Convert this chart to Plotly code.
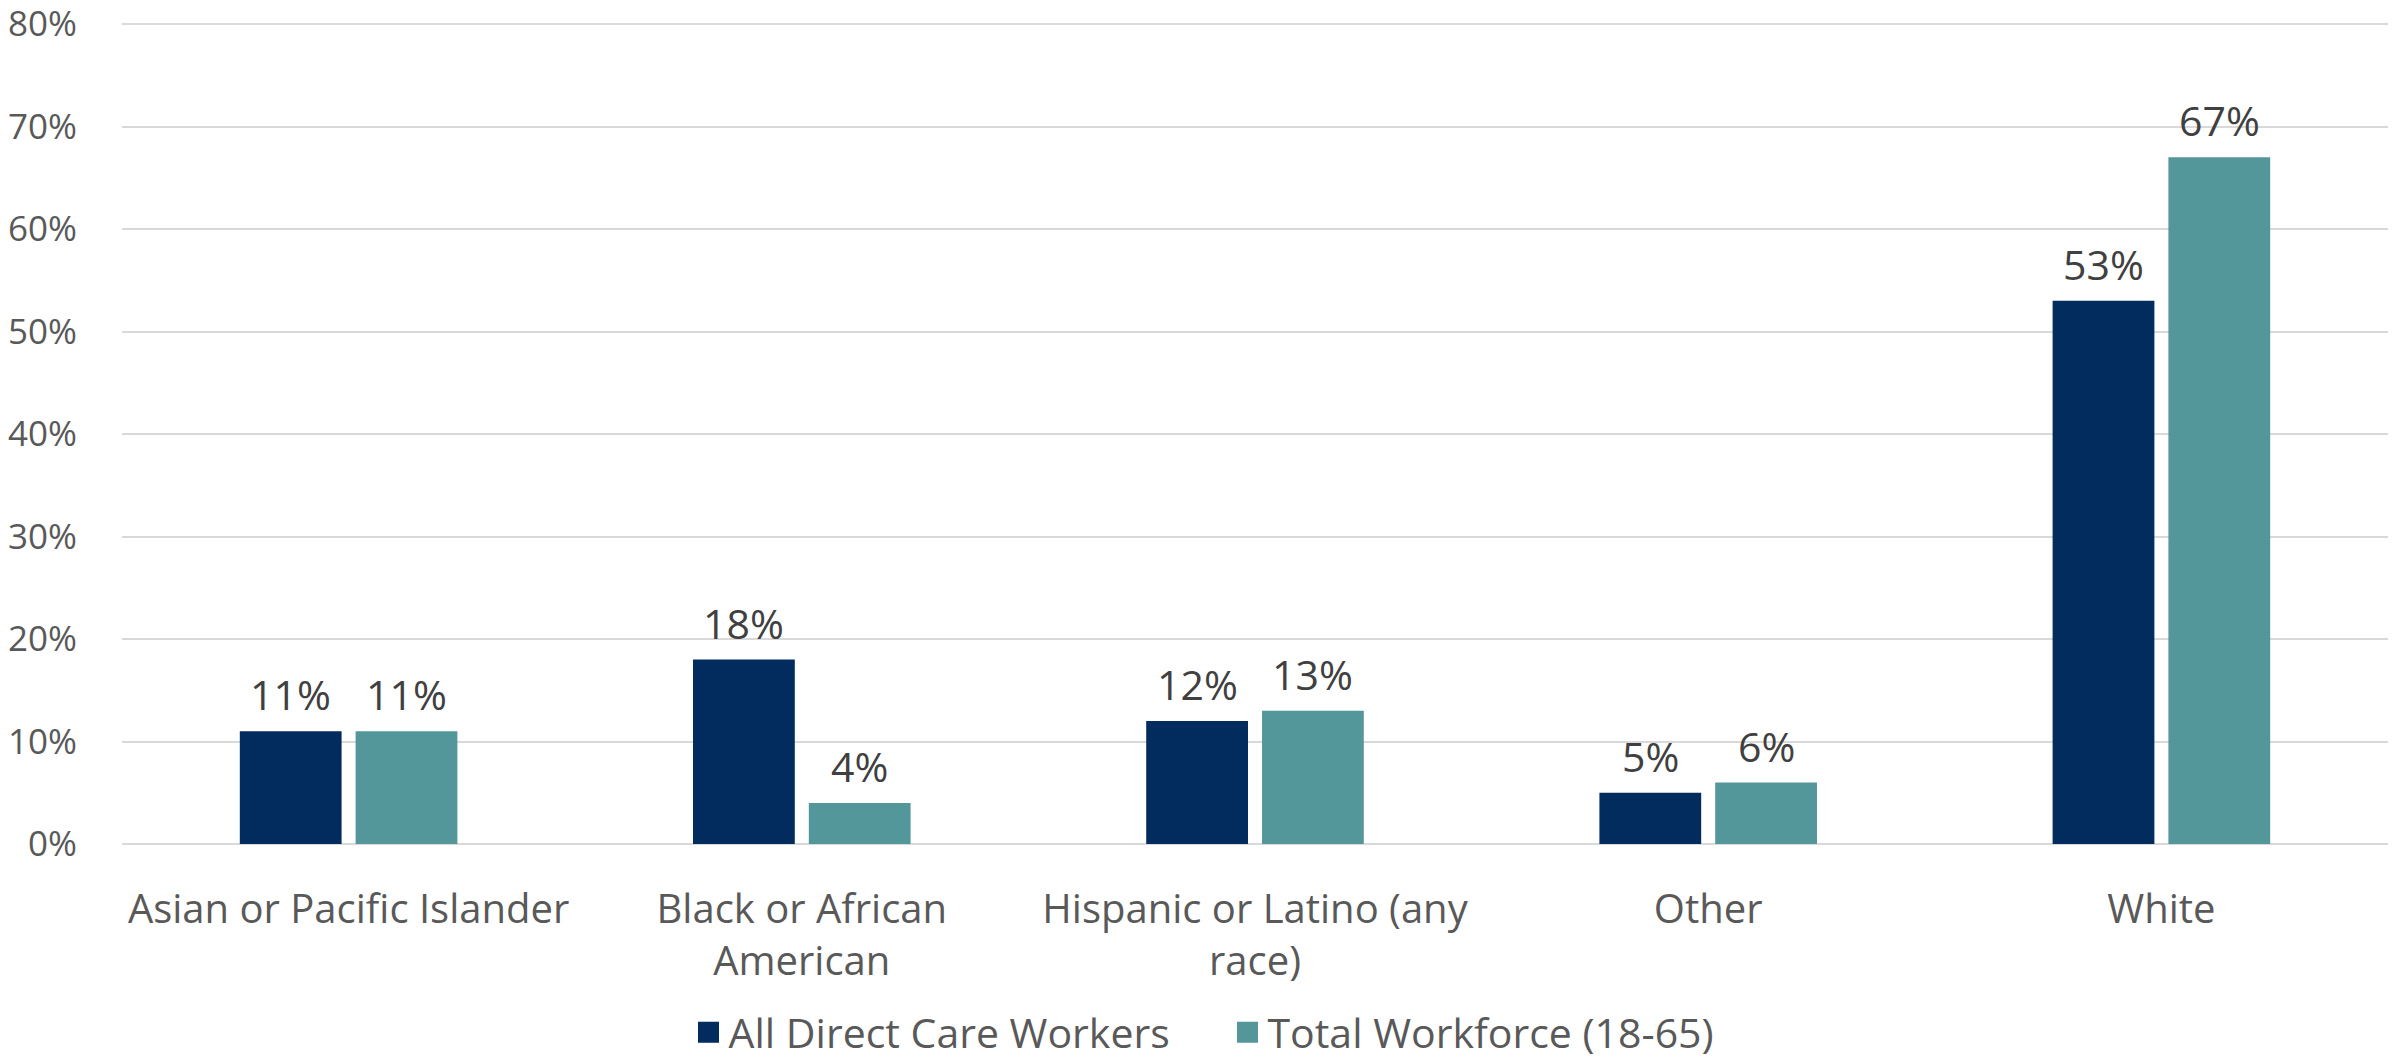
import plotly.graph_objects as go

# Race / ethnicity shares (percent)
categories = [
    "Asian or Pacific Islander",
    "Black or African<br>American",
    "Hispanic or Latino (any<br>race)",
    "Other",
    "White",
]
direct_care = [11, 18, 12, 5, 53]
total_workforce = [11, 4, 13, 6, 67]
series_names = ["All Direct Care Workers", "Total Workforce (18-65)"]
series_colors = ["#022B5E", "#54979B"]
y_ticks = [0, 10, 20, 30, 40, 50, 60, 70, 80]
y_tick_labels = [f"{v}%" for v in y_ticks]

FONT = "Open Sans, Segoe UI, sans-serif"

WIDTH, HEIGHT = 2402, 1062
MARGIN = dict(l=122, r=14, t=20, b=218)
BARGAP, BARGROUPGAP = 0.489, 0.121

# horizontal offset of each series' bar centre from its category centre
plot_w = WIDTH - MARGIN["l"] - MARGIN["r"]
slot_px = plot_w / len(categories) * (1 - BARGAP) / 2
offsets = [-slot_px / 2, slot_px / 2]

fig = go.Figure()
annotations = []
for name, vals, color, dx in zip(series_names, [direct_care, total_workforce],
                                 series_colors, offsets):
    fig.add_trace(go.Bar(
        x=categories,
        y=vals,
        name=name,
        marker=dict(color=color, line=dict(width=0)),
        showlegend=False,
        hoverinfo="skip",
    ))
    # legend swatch entry
    fig.add_trace(go.Scatter(
        x=[None], y=[None],
        mode="markers",
        name=name,
        marker=dict(symbol="square", size=24, color=color,
                    line=dict(width=5, color=color)),
        showlegend=True,
    ))
    for cat, v in zip(categories, vals):
        annotations.append(dict(
            x=cat, y=v, xref="x", yref="y",
            text=f"{v}%",
            showarrow=False,
            xanchor="center", yanchor="bottom",
            xshift=dx, yshift=7,
            font=dict(family=FONT, size=41, color="#404040"),
        ))

fig.update_layout(
    width=WIDTH,
    height=HEIGHT,
    margin=dict(**MARGIN, autoexpand=False),
    paper_bgcolor="white",
    plot_bgcolor="white",
    barmode="group",
    bargap=BARGAP,
    bargroupgap=BARGROUPGAP,
    font=dict(family=FONT, color="#595959"),
    annotations=annotations,
    legend=dict(
        orientation="h",
        x=0.250,
        xanchor="left",
        y=-0.229,
        yanchor="middle",
        entrywidth=494,
        entrywidthmode="pixels",
        font=dict(family=FONT, size=41, color="#595959"),
        bgcolor="rgba(0,0,0,0)",
        itemclick=False,
    ),
    xaxis=dict(
        type="category",
        tickfont=dict(family=FONT, size=40, color="#595959"),
        showgrid=False,
        showline=False,
        ticks="",
        ticklabelstandoff=38,
        automargin=False,
    ),
    yaxis=dict(
        range=[0, 80.4],
        tickmode="array",
        tickvals=y_ticks,
        ticktext=y_tick_labels,
        tickfont=dict(family=FONT, size=35, color="#595959"),
        ticklabeloverflow="allow",
        showgrid=True,
        gridcolor="#D9D9D9",
        gridwidth=2,
        zeroline=True,
        zerolinecolor="#D9D9D9",
        zerolinewidth=2,
        showline=False,
        ticks="",
        ticklabelstandoff=44,
        automargin=False,
    ),
)

fig.write_html("out.html")
